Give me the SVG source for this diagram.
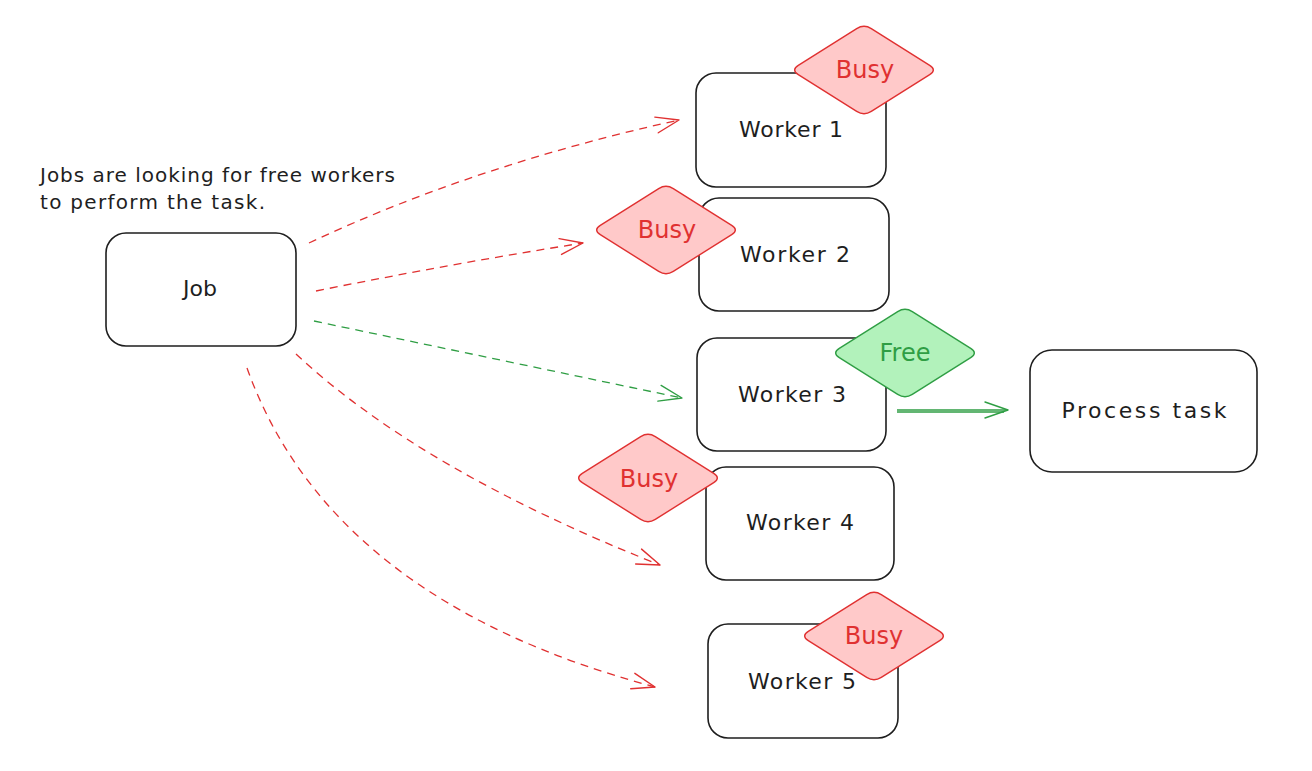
<svg xmlns="http://www.w3.org/2000/svg" width="1312" height="771" viewBox="0 0 1312 771">
<style>
  .box { fill: #ffffff; stroke: #1e1e1e; stroke-width: 1.6; }
  .lbl { font-family: "DejaVu Sans", "Liberation Sans", sans-serif; font-size: 22px; fill: #1e1e1e; text-anchor: middle; }
  .tag { font-family: "DejaVu Sans", "Liberation Sans", sans-serif; font-size: 24px; text-anchor: middle; }
  .note { font-family: "DejaVu Sans", "Liberation Sans", sans-serif; font-size: 20px; fill: #1e1e1e; }
  .red { fill: #ffc9c9; stroke: #e03131; stroke-width: 1.4; }
  .green { fill: #b2f2bb; stroke: #2f9e44; stroke-width: 1.4; }
  .redt { fill: #e03131; }
  .greent { fill: #2f9e44; }
  .dashr { fill: none; stroke: #e03131; stroke-width: 1.3; stroke-dasharray: 8 6; }
  .dashg { fill: none; stroke: #2f9e44; stroke-width: 1.3; stroke-dasharray: 8 6; }
  .solidg { fill: none; stroke: #2f9e44; stroke-width: 1.4; }
</style>
<defs>
  <path id="diamond" d="M -7.3,-41.4 Q 0,-46 7.3,-41.4 L 65.7,-4.6 Q 73,0 65.7,4.6 L 7.3,41.4 Q 0,46 -7.3,41.4 L -65.7,4.6 Q -73,0 -65.7,-4.6 Z"/>
  <marker id="arrR" markerUnits="userSpaceOnUse" markerWidth="30" markerHeight="30" viewBox="-26 -15 30 30" refX="0" refY="0" orient="auto">
    <path d="M -23,-8 L 0,0 L -23,8" fill="none" stroke="#e03131" stroke-width="1.4" stroke-linecap="round" stroke-linejoin="round"/>
  </marker>
  <marker id="arrG" markerUnits="userSpaceOnUse" markerWidth="30" markerHeight="30" viewBox="-26 -15 30 30" refX="0" refY="0" orient="auto">
    <path d="M -23,-8 L 0,0 L -23,8" fill="none" stroke="#2f9e44" stroke-width="1.4" stroke-linecap="round" stroke-linejoin="round"/>
  </marker>
</defs>

<text class="note" x="40" y="182" textLength="355">Jobs are looking for free workers</text>
<text class="note" x="40" y="209" textLength="225">to perform the task.</text>

<g id="connectors">
  <path class="dashr" d="M 309,243 Q 475,165 679,120" marker-end="url(#arrR)"/>
  <path class="dashr" d="M 316,291 Q 450,264 583,243" marker-end="url(#arrR)"/>
  <path class="dashg" d="M 314,321 Q 500,360 682,398" marker-end="url(#arrG)"/>
  <path class="dashr" d="M 296,354 Q 420,470 660,565" marker-end="url(#arrR)"/>
  <path class="dashr" d="M 247,368 Q 330,600 655,687" marker-end="url(#arrR)"/>
  <path class="solidg" d="M 897,410 L 1008,410" marker-end="url(#arrG)"/>
  <path class="solidg" d="M 897,412 L 1004,412"/>
</g>

<g id="job">
  <rect class="box" x="106" y="233" width="190" height="113" rx="20"/>
  <text class="lbl" x="200" y="296">Job</text>
</g>

<g id="worker1">
  <rect class="box" x="696" y="73" width="190" height="114" rx="20"/>
  <text class="lbl" x="791" y="137" textLength="104">Worker 1</text>
</g>
<g id="busy1">
  <use href="#diamond" class="red" transform="translate(864,70)"/>
  <text class="tag redt" x="865" y="78">Busy</text>
</g>

<g id="worker2">
  <rect class="box" x="699" y="198" width="190" height="113" rx="20"/>
  <text class="lbl" x="795" y="262" textLength="110">Worker 2</text>
</g>
<g id="busy2">
  <use href="#diamond" class="red" transform="translate(666,230)"/>
  <text class="tag redt" x="667" y="238">Busy</text>
</g>

<g id="worker3">
  <rect class="box" x="697" y="338" width="189" height="113" rx="20"/>
  <text class="lbl" x="792" y="402" textLength="108">Worker 3</text>
</g>
<g id="free3">
  <use href="#diamond" class="green" transform="translate(905,353)"/>
  <text class="tag greent" x="905" y="361">Free</text>
</g>

<g id="process">
  <rect class="box" x="1030" y="350" width="227" height="122" rx="22"/>
  <text class="lbl" x="1144" y="418" textLength="165">Process task</text>
</g>

<g id="worker4">
  <rect class="box" x="706" y="467" width="188" height="113" rx="20"/>
  <text class="lbl" x="800" y="530" textLength="108">Worker 4</text>
</g>
<g id="busy4">
  <use href="#diamond" class="red" transform="translate(648,478)"/>
  <text class="tag redt" x="649" y="487">Busy</text>
</g>

<g id="worker5">
  <rect class="box" x="708" y="624" width="190" height="114" rx="20"/>
  <text class="lbl" x="802" y="689" textLength="108">Worker 5</text>
</g>
<g id="busy5">
  <use href="#diamond" class="red" transform="translate(874,636)"/>
  <text class="tag redt" x="874" y="644">Busy</text>
</g>
</svg>
